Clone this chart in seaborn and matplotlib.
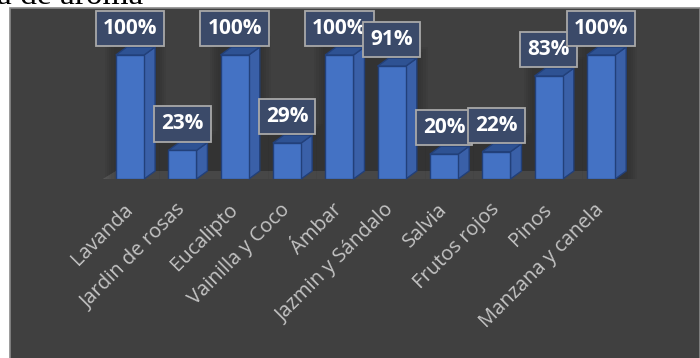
import matplotlib
matplotlib.use("Agg")
import matplotlib.pyplot as plt
from matplotlib.patches import Rectangle, Polygon
import seaborn as sns
import pandas as pd

# Aromas and the share of people who liked each one (%)
aromas = ["Lavanda", "Jardin de rosas", "Eucalipto", "Vainilla y Coco", "Ámbar",
          "Jazmin y Sándalo", "Salvia", "Frutos rojos", "Pinos", "Manzana y canela"]
porcentajes = [100, 23, 100, 29, 100, 91, 20, 22, 83, 100]

df = pd.DataFrame({"aroma": aromas, "pct": porcentajes})

sns.set_theme(style="white")
plt.rcParams["font.family"] = ["Open Sans", "DejaVu Sans"]

W, H = 700, 358
fig = plt.figure(figsize=(W / 100, H / 100), dpi=100, facecolor="white")

# dark chart panel
fig.add_artist(Rectangle((9.5 / W, -0.02), 690 / W, (H - 8) / H + 0.02,
                         transform=fig.transFigure, facecolor="#404040",
                         edgecolor="#8a8a8a", lw=1.2, zorder=0))
# title, clipped by the top edge of the figure
fig.text(-3 / W, 1 - 4 / H, "a de aroma", family="Liberation Serif",
         fontsize=24, color="black", ha="left", va="baseline")

ax = fig.add_axes([103.8 / W, (H - 179) / H, 523.4 / W, 124 / H])
ax.patch.set_alpha(0)
for s in ax.spines.values():
    s.set_visible(False)

front = "#4472c4"
side = "#3a60a8"
top = "#2e5293"
edge = "#22407a"

sns.barplot(data=df, x="aroma", y="pct", color=front, width=0.54,
            edgecolor=edge, linewidth=1.0, saturation=1, ax=ax, zorder=4)
ax.set_xlim(-0.5, 9.5)
ax.set_ylim(0, 100)

# pixel -> data units for the 3D depth
px_x = 523.4 / 10.0
px_y = 124 / 100.0
dx, dy = 11 / px_x, 8 / px_y

# floor
fx0, fx1 = -0.52, 9.24
ax.add_patch(Polygon([(fx0, 0), (fx1, 0), (fx1 + 13 / px_x, dy), (fx0 + 13 / px_x, dy)],
                     closed=True, facecolor="#575757", edgecolor="none",
                     zorder=1, clip_on=False))

for i, bar in enumerate(list(ax.patches)[:len(porcentajes)]):
    x0 = bar.get_x()
    w = bar.get_width()
    h = bar.get_height()
    x1 = x0 + w
    # soft shadow
    for k in range(1, 6):
        e = k * 2.2
        ax.add_patch(Rectangle((x0 - e / px_x, 0), w + dx + 2 * e / px_x, h + dy + e / px_y,
                               facecolor="black", alpha=0.035, edgecolor="none",
                               zorder=2, clip_on=False))
    ax.add_patch(Polygon([(x1, 0), (x1 + dx, dy), (x1 + dx, h + dy), (x1, h)],
                         closed=True, facecolor=side, edgecolor=edge, lw=1.0,
                         zorder=3, clip_on=False))
    ax.add_patch(Polygon([(x0, h), (x1, h), (x1 + dx, h + dy), (x0 + dx, h + dy)],
                         closed=True, facecolor=top, edgecolor=edge, lw=1.0,
                         zorder=3, clip_on=False))
    # value label box
    ax.annotate(f"{porcentajes[i]}%", xy=(x0 + w / 2, h + dy), xytext=(0, 5.8),
                textcoords="offset points", ha="center", va="bottom",
                fontsize=15, fontweight="bold", color="white", zorder=10 + i,
                annotation_clip=False,
                bbox=dict(boxstyle="square,pad=0.34", facecolor="#3b4a69",
                          edgecolor="#a9a9a9", lw=1.3))

ax.set_xlabel("")
ax.set_ylabel("")
ax.set_yticks([])
ax.set_xticks(range(len(aromas)))
ax.set_xticklabels(aromas, rotation=45, ha="right", va="center",
                   rotation_mode="anchor", color="#c4c4c4", fontsize=14.5)
ax.tick_params(axis="x", length=0, pad=20)

fig.savefig("out.png", dpi=100, facecolor="white")
